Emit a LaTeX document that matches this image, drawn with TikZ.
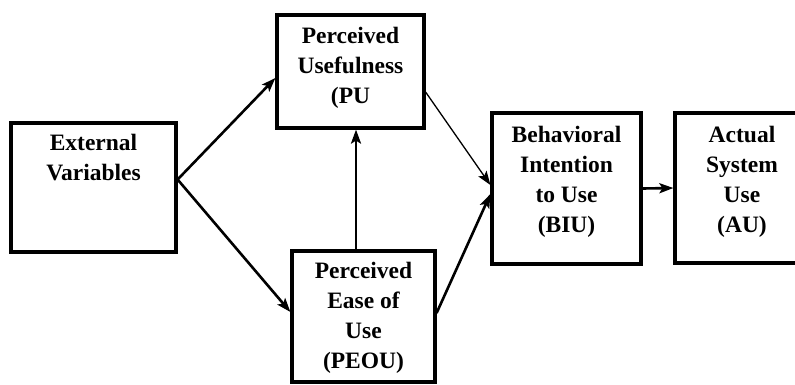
\documentclass[tikz,border=0pt]{standalone}
\usepackage{fontspec}
\setmainfont{Liberation Serif}[BoldFont={Liberation Serif Bold}]
\usetikzlibrary{arrows.meta}

\begin{document}
\begin{tikzpicture}[x=1pt, y=-1pt, line join=miter,
    box/.style={draw, line width=3.2pt, minimum width=#1, inner sep=0pt},
    boxtext/.style={anchor=north, inner sep=0pt, align=center,
      font=\rmfamily\bfseries\fontsize{23.5}{30}\selectfont},
    arr/.style={line width=2.6pt, -{Stealth[length=14pt,width=10pt,inset=3pt]}},
    thinarr/.style={line width=1.3pt, -{Stealth[length=14pt,width=10pt,inset=3pt]}}]
  \useasboundingbox (0,0) rectangle (795,384);
  \clip (0,0) rectangle (795,384);

  % boxes
  \node[box=165pt, minimum height=129pt] (ev) at (93.5,187.5) {};
  \node[box=147pt, minimum height=113pt] (pu) at (350.5,71.5) {};
  \node[box=143pt, minimum height=131pt] (peou) at (363.5,316.5) {};
  \node[box=149pt, minimum height=151pt] (biu) at (566.5,188.5) {};
  \node[box=134pt, minimum height=150pt] (au) at (742,188) {};

  % texts
  \node[boxtext] (evtext) at ([yshift=-13pt]ev.north) {External\\Variables};
  \node[boxtext] (putext) at ([yshift=-14pt]pu.north) {Perceived\\Usefulness\\(PU};
  \node[boxtext] (peoutext) at ([yshift=-13pt]peou.north) {Perceived\\Ease of\\Use\\(PEOU)};
  \node[boxtext] (biutext) at ([yshift=-15pt]biu.north) {Behavioral\\Intention\\to Use\\(BIU)};
  \node[boxtext] (autext) at ([yshift=-15pt]au.north) {Actual\\System\\Use\\(AU)};

  % arrows
  \draw[arr] ([yshift=8pt]ev.east) -- ([yshift=-6.5pt]pu.west);
  \draw[arr] ([yshift=8pt]ev.east) -- ([yshift=4.5pt]peou.west);
  \draw[arr] ([xshift=-7.5pt]peou.north) -- ([xshift=5.5pt]pu.south);
  \draw[thinarr] ([yshift=-20.5pt]pu.east) -- ([yshift=3.5pt]biu.west);
  \draw[arr] ([yshift=3.5pt]peou.east) -- ([yshift=-5.5pt]biu.west);
  \draw[arr] (biu.east) -- (au.west);
\end{tikzpicture}
\end{document}
